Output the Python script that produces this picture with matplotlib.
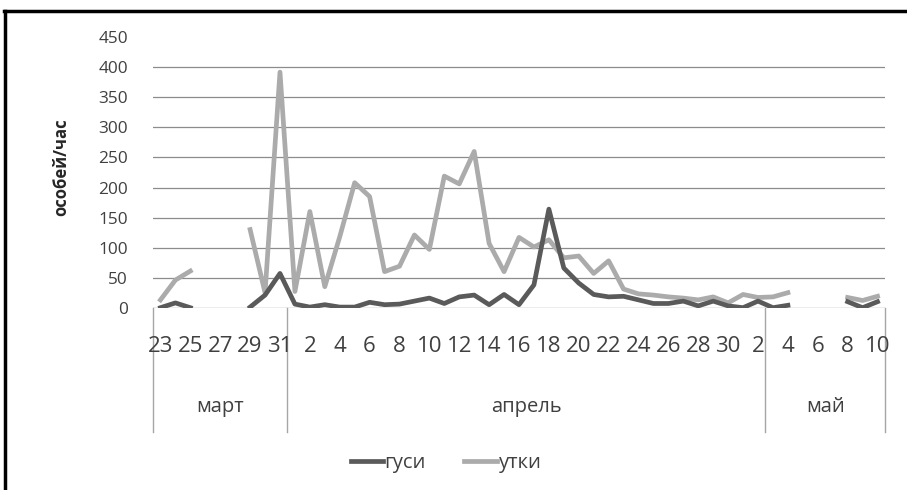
import matplotlib.pyplot as plt
import matplotlib.transforms as mtransforms
import numpy as np

plt.rcParams["font.family"] = ["Open Sans", "DejaVu Sans"]

# days: 23-31 March, 1-30 April, 1-10 May
days = list(range(23, 32)) + list(range(1, 31)) + list(range(1, 11))

geese = [0, 8, 0, None, None, None, 1, 21, 57,
         6, 1, 5, 1, 1, 9, 5, 6, 11, 16, 7, 18, 21, 5, 22, 5, 38, 164, 66, 41, 22,
         18, 19, 13, 7, 7, 11, 3, 11, 3,
         0, 11, 0, 4, None, None, None, 10, 0, 10]
ducks = [13, 46, 61, None, None, None, 130, 25, 392,
         27, 160, 35, 118, 208, 185, 60, 69, 121, 97, 219, 206, 260, 107, 60, 117, 101, 113, 83, 86, 57,
         78, 31, 23, 21, 18, 16, 13, 18, 8,
         22, 17, 18, 25, None, None, None, 17, 12, 19]

month_names = ["март", "апрель", "май"]
month_spans = [9, 32, 8]  # as grouped on the chart's axis

geese = np.array(geese, dtype=float)
ducks = np.array(ducks, dtype=float)
x = np.arange(len(days))

fig = plt.figure(figsize=(9.07, 4.90), dpi=100)
ax = fig.add_axes([153 / 907, (490 - 307.7) / 490, (885 - 153) / 907, 270.4 / 490])

for v in range(50, 401, 50):
    ax.axhline(v, color="#8c8c8c", lw=0.9, zorder=1)
ax.axhline(0, color="#a0a0a0", lw=1.0, zorder=1)

ax.plot(x, ducks, color="#ababab", lw=3.4, solid_joinstyle="round", label="утки", zorder=3)
ax.plot(x, geese, color="#5a5a5a", lw=3.4, solid_joinstyle="round", label="гуси", zorder=4)

ax.set_xlim(-0.5, len(days) - 0.5)
ax.set_ylim(0, 450)
for s in ax.spines.values():
    s.set_visible(False)

ax.set_yticks(range(0, 451, 50))
ax.tick_params(axis="y", length=0, pad=18, labelsize=12.4, labelcolor="#404040")
ax.set_xticks([])

trans = mtransforms.blended_transform_factory(ax.transData, ax.transAxes)
for i in range(0, len(days), 2):
    ax.text(i, -0.1638, str(days[i]), transform=trans, ha="center", va="baseline",
            fontsize=16, color="#404040")

# month groups
edges = np.concatenate([[0], np.cumsum(month_spans)]) - 0.5
for e in edges:
    ax.plot([e, e], [0, -0.46], transform=trans, color="#a6a6a6", lw=1.0, clip_on=False)
for name, a, b in zip(month_names, edges[:-1], edges[1:]):
    ax.text((a + b) / 2, -0.3857, name, transform=trans, ha="center", va="baseline",
            fontsize=14.5, color="#404040")

fig.text(61 / 907, (490 - 167) / 490, "особей/час", rotation=90, ha="center", va="center",
         fontsize=12, fontweight="bold", color="#262626")

h, l = ax.get_legend_handles_labels()
fig.legend(h[::-1], l[::-1], loc="center", bbox_to_anchor=(446 / 907, (490 - 463) / 490), ncol=2,
           frameon=False, fontsize=14.5, handlelength=1.6, handletextpad=0.1, columnspacing=1.9,
           labelcolor="#404040")

# frame of the scanned figure
fig.add_artist(plt.Line2D([5 / 907, 5 / 907], [0, (490 - 11) / 490], color="black", lw=2.5,
                          transform=fig.transFigure))
fig.add_artist(plt.Line2D([4 / 907, 1], [(490 - 11) / 490, (490 - 11) / 490], color="black", lw=2.5,
                          transform=fig.transFigure))

fig.savefig("out.png", dpi=100)
